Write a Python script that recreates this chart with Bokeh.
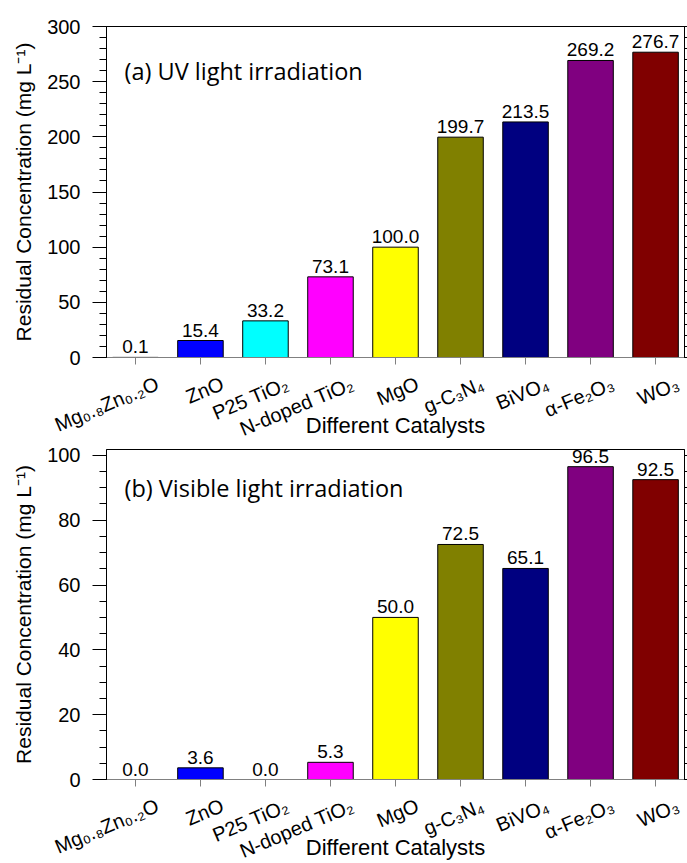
from bokeh.plotting import figure
from bokeh.models import (Range1d, LinearAxis, FixedTicker, SingleIntervalTicker,
                          ColumnDataSource, LabelSet, Label, CustomJSTickFormatter)
from bokeh.core.properties import value
from bokeh.layouts import column
from bokeh.embed import file_html
from bokeh.resources import INLINE

# Catalysts and measured residual concentrations (mg L^-1)
catalysts = ["Mg\u2080.\u2088Zn\u2080.\u2082O", "ZnO", "P25 TiO\u2082", "N-doped TiO\u2082", "MgO",
             "g-C\u2083N\u2084", "BiVO\u2084", "\u03b1-Fe\u2082O\u2083", "WO\u2083"]
uv_values = [0.1, 15.4, 33.2, 73.1, 100.0, 199.7, 213.5, 269.2, 276.7]
visible_values = [0.0, 3.6, 0.0, 5.3, 50.0, 72.5, 65.1, 96.5, 92.5]
bar_colors = ["#008000", "#0000FF", "#00FFFF", "#FF00FF", "#FFFF00",
              "#808000", "#000080", "#800080", "#800000"]

AXIS_FONT = "Liberation Sans"
NOTE_FONT = "Open Sans"
LABEL_SHIFT = 0.34  # slanted names are nudged right so they sit centred under their bar

blank = CustomJSTickFormatter(code="return ''")


def make_panel(values, y_max, interval, n_minor, caption, height,
               border_top, border_bottom, caption_y):
    positions = list(range(1, len(catalysts) + 1))
    src = ColumnDataSource(dict(
        x=positions,
        top=values,
        color=bar_colors,
        label=[f"{v:.1f}" for v in values],
    ))

    p = figure(width=687, height=height, output_backend="svg", toolbar_location=None,
               x_range=Range1d(0.555, 9.445), y_range=Range1d(0, y_max),
               x_axis_location=None,
               min_border_left=106, min_border_right=3,
               min_border_top=border_top, min_border_bottom=border_bottom)
    p.background_fill_color = "white"
    p.border_fill_color = "white"
    p.outline_line_color = "black"
    p.outline_line_width = 1
    p.xgrid.visible = False
    p.ygrid.visible = False

    p.vbar(x="x", top="top", bottom=0, width=0.7, fill_color="color",
           line_color="black", line_width=1, source=src)

    p.add_layout(LabelSet(x="x", y="top", text="label", source=src,
                          text_align="center", text_baseline="alphabetic",
                          y_offset=4, text_font=value(AXIS_FONT),
                          text_font_size="19px", text_color="black"))

    # left axis
    ticker = SingleIntervalTicker(interval=interval, num_minor_ticks=n_minor)
    ya = p.yaxis[0]
    ya.ticker = ticker
    ya.axis_label = "Residual Concentration (mg L\u207b\u00b9)"
    ya.axis_label_text_font = AXIS_FONT
    ya.axis_label_text_font_size = "21px"
    ya.axis_label_text_font_style = "normal"
    ya.axis_label_text_color = "black"
    ya.axis_label_standoff = 9
    ya.major_label_text_font = AXIS_FONT
    ya.major_label_text_font_size = "20px"
    ya.major_label_text_color = "black"
    ya.major_label_standoff = 12
    ya.major_tick_out = 14
    ya.major_tick_in = 0
    ya.minor_tick_out = 7
    ya.minor_tick_in = 0
    ya.axis_line_color = "black"

    # right axis: ticks only
    ra = LinearAxis(ticker=ticker, formatter=blank,
                    major_label_standoff=0, major_tick_out=3, major_tick_in=0,
                    minor_tick_out=3, minor_tick_in=0)
    p.add_layout(ra, "right")

    # bottom axis line with a tick under every bar
    ta = LinearAxis(ticker=FixedTicker(ticks=positions), formatter=blank,
                    major_label_text_font_size="2px", major_label_standoff=0,
                    major_tick_out=7, major_tick_in=0,
                    minor_tick_line_color=None,
                    axis_line_color="#808080", major_tick_line_color="#808080")
    p.add_layout(ta, "below")

    # slanted catalyst names and the axis title
    names = CustomJSTickFormatter(args=dict(names=catalysts), code="return names[index]")
    la = LinearAxis(ticker=FixedTicker(ticks=[x + LABEL_SHIFT for x in positions]),
                    formatter=names,
                    major_label_orientation=0.40,
                    major_label_text_font=AXIS_FONT,
                    major_label_text_font_size="20px",
                    major_label_text_color="black",
                    major_label_standoff=18,
                    major_tick_out=0, major_tick_in=0,
                    major_tick_line_color=None, minor_tick_line_color=None,
                    axis_line_color=None,
                    axis_label="Different Catalysts",
                    axis_label_text_font=AXIS_FONT,
                    axis_label_text_font_size="22px",
                    axis_label_text_font_style="normal",
                    axis_label_text_color="black",
                    axis_label_standoff=-40)
    p.add_layout(la, "below")

    p.add_layout(Label(x=0.832, y=caption_y, text=caption,
                       text_align="left", text_baseline="alphabetic",
                       text_font=NOTE_FONT, text_font_size="23.5px",
                       text_color="black"))
    return p


p1 = make_panel(uv_values, 300, 50, 5, "(a) UV light irradiation",
                height=442, border_top=26, border_bottom=85, caption_y=260)
p2 = make_panel(visible_values, 101.8, 20, 4, "(b) Visible light irradiation",
                height=421, border_top=7, border_bottom=82, caption_y=89.8)

layout = column(p1, p2)
open("out.html", "w").write(file_html(layout, INLINE))
